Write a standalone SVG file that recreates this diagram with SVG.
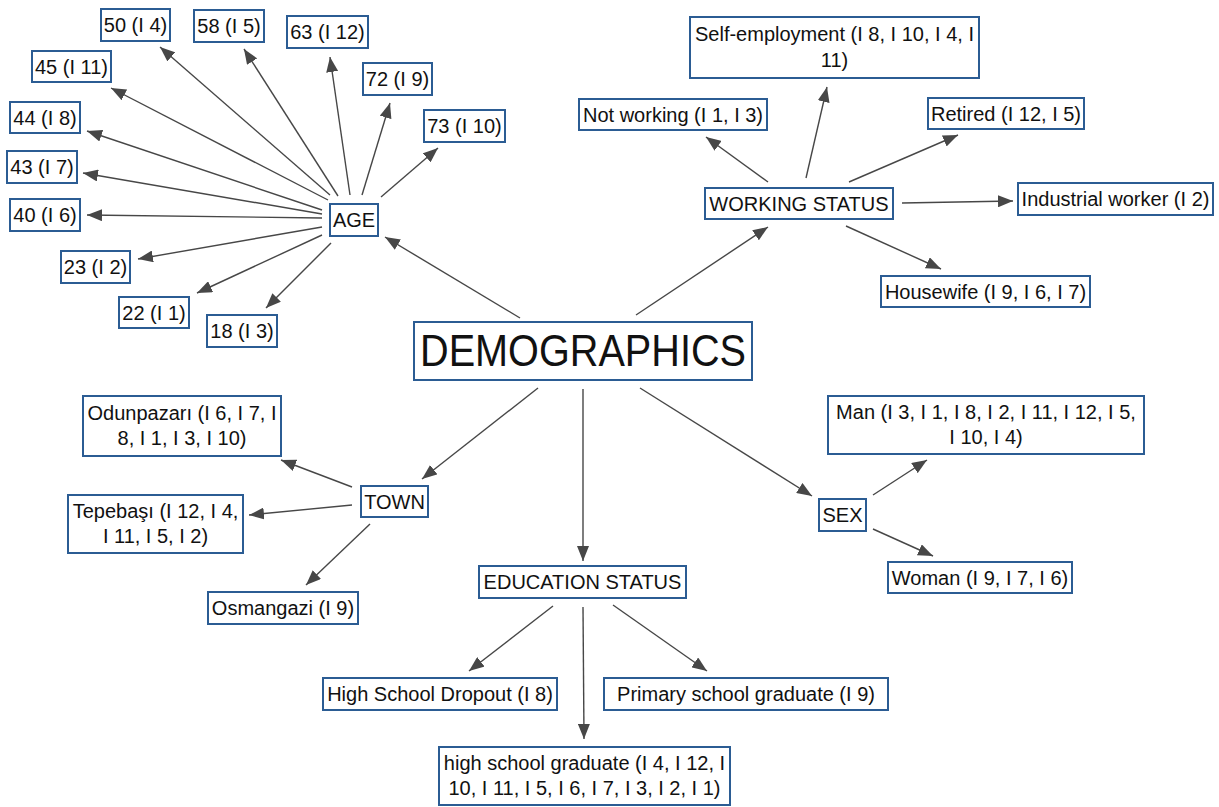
<svg xmlns="http://www.w3.org/2000/svg" width="1219" height="807" viewBox="0 0 1219 807">
  <style>
    .box { fill: #ffffff; stroke: #2b5c93; stroke-width: 2; }
    .lbl { font-family: "Liberation Sans", Arial, sans-serif; font-size: 20px; fill: #111111; text-anchor: middle; }
    .big { font-family: "Liberation Sans", Arial, sans-serif; font-size: 45px; fill: #111111; text-anchor: middle; }
    .edge { stroke: #474747; stroke-width: 1.4; fill: none; marker-end: url(#arrow); }
  </style>
  <defs>
    <marker id="arrow" markerUnits="userSpaceOnUse" markerWidth="16" markerHeight="12" refX="15" refY="6" orient="auto">
      <path d="M0,0 L15,6 L0,12 z" fill="#474747"/>
    </marker>
  </defs>
  <rect width="1219" height="807" fill="#ffffff"/>

  <g id="connectors">
    <!-- central hub to category nodes -->
    <line class="edge" x1="520" y1="318" x2="385" y2="237"/>
    <line class="edge" x1="636" y1="315" x2="768" y2="227"/>
    <line class="edge" x1="538" y1="388" x2="422" y2="479"/>
    <line class="edge" x1="583" y1="389" x2="583" y2="561"/>
    <line class="edge" x1="640" y1="388" x2="812" y2="496"/>
    <!-- AGE -->
    <line class="edge" x1="330" y1="195" x2="160" y2="47"/>
    <line class="edge" x1="338" y1="196" x2="244" y2="49"/>
    <line class="edge" x1="350" y1="195" x2="330" y2="57"/>
    <line class="edge" x1="362" y1="195" x2="390" y2="103"/>
    <line class="edge" x1="381" y1="197" x2="438" y2="148"/>
    <line class="edge" x1="328" y1="200" x2="111" y2="88"/>
    <line class="edge" x1="322" y1="210" x2="87" y2="131"/>
    <line class="edge" x1="322" y1="214" x2="83" y2="173"/>
    <line class="edge" x1="322" y1="218" x2="87" y2="215"/>
    <line class="edge" x1="322" y1="227" x2="138" y2="259"/>
    <line class="edge" x1="322" y1="235" x2="197" y2="293"/>
    <line class="edge" x1="331" y1="243" x2="266" y2="308"/>
    <!-- WORKING STATUS -->
    <line class="edge" x1="768" y1="182" x2="706" y2="137"/>
    <line class="edge" x1="806" y1="178" x2="827" y2="87"/>
    <line class="edge" x1="849" y1="182" x2="958" y2="135"/>
    <line class="edge" x1="902" y1="203" x2="1013" y2="201"/>
    <line class="edge" x1="846" y1="226" x2="941" y2="269"/>
    <!-- TOWN -->
    <line class="edge" x1="352" y1="487" x2="281" y2="460"/>
    <line class="edge" x1="352" y1="505" x2="249" y2="515"/>
    <line class="edge" x1="370" y1="524" x2="306" y2="585"/>
    <!-- EDUCATION STATUS -->
    <line class="edge" x1="553" y1="606" x2="469" y2="671"/>
    <line class="edge" x1="583" y1="607" x2="584" y2="739"/>
    <line class="edge" x1="613" y1="605" x2="707" y2="671"/>
    <!-- SEX -->
    <line class="edge" x1="873" y1="495" x2="927" y2="460"/>
    <line class="edge" x1="873" y1="529" x2="933" y2="556"/>
  </g>

  <g id="demographics">
    <rect class="box" x="414" y="322" width="338" height="58"/>
    <text class="big" x="583" y="366" textLength="326" lengthAdjust="spacingAndGlyphs">DEMOGRAPHICS</text>
  </g>

  <!-- AGE branch -->
  <g id="age">
    <rect class="box" x="330" y="204" width="48" height="32"/>
    <text class="lbl" x="354" y="227">AGE</text>
  </g>
  <g id="age-50"><rect class="box" x="101" y="9" width="69" height="32"/><text class="lbl" x="135.5" y="32">50 (I 4)</text></g>
  <g id="age-58"><rect class="box" x="194" y="10" width="70" height="32"/><text class="lbl" x="229" y="33">58 (I 5)</text></g>
  <g id="age-63"><rect class="box" x="287" y="16" width="81" height="32"/><text class="lbl" x="327.5" y="39">63 (I 12)</text></g>
  <g id="age-72"><rect class="box" x="363" y="63" width="69" height="32"/><text class="lbl" x="397.5" y="86">72 (I 9)</text></g>
  <g id="age-73"><rect class="box" x="424" y="110" width="81" height="32"/><text class="lbl" x="464.5" y="133">73 (I 10)</text></g>
  <g id="age-45"><rect class="box" x="32" y="51" width="79" height="31"/><text class="lbl" x="71.5" y="74">45 (I 11)</text></g>
  <g id="age-44"><rect class="box" x="10" y="102" width="70" height="31"/><text class="lbl" x="45" y="125">44 (I 8)</text></g>
  <g id="age-43"><rect class="box" x="7" y="151" width="70" height="32"/><text class="lbl" x="42" y="174">43 (I 7)</text></g>
  <g id="age-40"><rect class="box" x="10" y="199" width="70" height="32"/><text class="lbl" x="45" y="222">40 (I 6)</text></g>
  <g id="age-23"><rect class="box" x="61" y="251" width="69" height="32"/><text class="lbl" x="95.5" y="274">23 (I 2)</text></g>
  <g id="age-22"><rect class="box" x="119" y="297" width="70" height="31"/><text class="lbl" x="154" y="320">22 (I 1)</text></g>
  <g id="age-18"><rect class="box" x="207" y="315" width="70" height="32"/><text class="lbl" x="242" y="338">18 (I 3)</text></g>

  <!-- WORKING STATUS branch -->
  <g id="working-status">
    <rect class="box" x="705" y="188" width="188" height="31"/>
    <text class="lbl" x="799" y="211">WORKING STATUS</text>
  </g>
  <g id="self-employment">
    <rect class="box" x="690" y="17" width="289" height="61"/>
    <text class="lbl" x="834.5" y="41">Self-employment (I 8, I 10, I 4, I</text>
    <text class="lbl" x="834.5" y="67">11)</text>
  </g>
  <g id="not-working"><rect class="box" x="579" y="99" width="188" height="31"/><text class="lbl" x="673" y="122">Not working (I 1, I 3)</text></g>
  <g id="retired"><rect class="box" x="928" y="98" width="156" height="31"/><text class="lbl" x="1006" y="121">Retired (I 12, I 5)</text></g>
  <g id="industrial-worker"><rect class="box" x="1018" y="183" width="195" height="32"/><text class="lbl" x="1115.5" y="206">Industrial worker (I 2)</text></g>
  <g id="housewife"><rect class="box" x="881" y="276" width="209" height="31"/><text class="lbl" x="985.5" y="299">Housewife (I 9, I 6, I 7)</text></g>

  <!-- TOWN branch -->
  <g id="town">
    <rect class="box" x="361" y="486" width="67" height="31"/>
    <text class="lbl" x="394.5" y="509">TOWN</text>
  </g>
  <g id="odunpazari">
    <rect class="box" x="83" y="396" width="198" height="60"/>
    <text class="lbl" x="182" y="420">Odunpazarı (I 6, I 7, I</text>
    <text class="lbl" x="182" y="445">8, I 1, I 3, I 10)</text>
  </g>
  <g id="tepebasi">
    <rect class="box" x="68" y="495" width="175" height="58"/>
    <text class="lbl" x="155.5" y="518">Tepebaşı (I 12, I 4,</text>
    <text class="lbl" x="155.5" y="543">I 11, I 5, I 2)</text>
  </g>
  <g id="osmangazi"><rect class="box" x="208" y="592" width="150" height="32"/><text class="lbl" x="283" y="615">Osmangazi (I 9)</text></g>

  <!-- EDUCATION STATUS branch -->
  <g id="education-status">
    <rect class="box" x="479" y="566" width="207" height="32"/>
    <text class="lbl" x="582.5" y="589">EDUCATION STATUS</text>
  </g>
  <g id="high-school-dropout"><rect class="box" x="323" y="678" width="234" height="32"/><text class="lbl" x="440" y="701">High School Dropout (I 8)</text></g>
  <g id="primary-school-graduate"><rect class="box" x="604" y="678" width="284" height="32"/><text class="lbl" x="746" y="701">Primary school graduate (I 9)</text></g>
  <g id="high-school-graduate">
    <rect class="box" x="439" y="747" width="291" height="58"/>
    <text class="lbl" x="584.5" y="770">high school graduate (I 4, I 12, I</text>
    <text class="lbl" x="584.5" y="795">10, I 11, I 5, I 6, I 7, I 3, I 2, I 1)</text>
  </g>

  <!-- SEX branch -->
  <g id="sex">
    <rect class="box" x="819" y="499" width="47" height="32"/>
    <text class="lbl" x="842.5" y="522">SEX</text>
  </g>
  <g id="man">
    <rect class="box" x="828" y="396" width="316" height="58"/>
    <text class="lbl" x="986" y="419">Man (I 3, I 1, I 8, I 2, I 11, I 12, I 5,</text>
    <text class="lbl" x="986" y="444">I 10, I 4)</text>
  </g>
  <g id="woman"><rect class="box" x="888" y="562" width="184" height="31"/><text class="lbl" x="980" y="585">Woman (I 9, I 7, I 6)</text></g>
</svg>
